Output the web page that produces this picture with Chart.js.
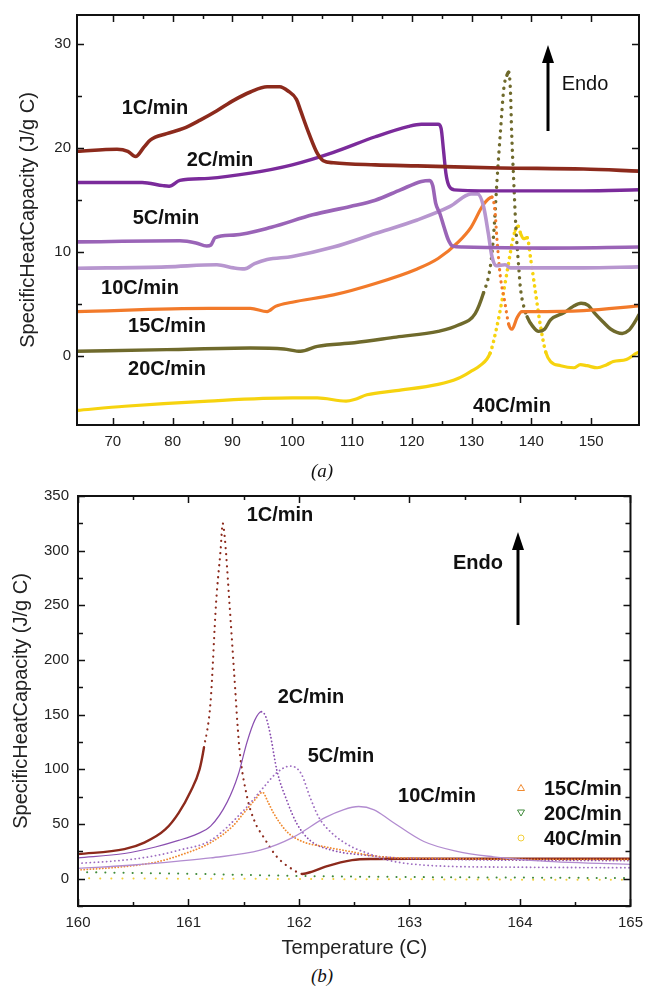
<!DOCTYPE html>
<html>
<head>
<meta charset="utf-8">
<script src="https://cdn.jsdelivr.net/npm/chart.js@4.4.1/dist/chart.umd.min.js"></script>
<style>
    html, body { margin: 0; padding: 0; background: #fff; }
    #page {
        position: relative; width: 651px; height: 986px; overflow: hidden;
        font-family: "Liberation Sans", Arial, sans-serif; color: #111;
    }
    canvas { position: absolute; left: 0; }
    #chart-a { top: 0; }
    #chart-b { top: 478px; }
    .note {
        position: absolute; transform: translate(-50%, -50%);
        font-size: 20px; font-weight: bold; white-space: nowrap; line-height: 1;
    }
    .note.plain { font-weight: normal; }
    .legend-text {
        position: absolute; transform: translateY(-50%);
        font-size: 20px; font-weight: bold; white-space: nowrap; line-height: 1;
    }
    .caption {
        position: absolute; transform: translate(-50%, -50%);
        font-family: "Liberation Serif", "DejaVu Serif", serif;
        font-style: italic; font-size: 19px; line-height: 1;
    }
    svg { position: absolute; left: 0; top: 0; overflow: visible; }
</style>
</head>
<body>
<div id="page">
    <canvas id="chart-a" width="651" height="460"></canvas>
    <canvas id="chart-b" width="651" height="484"></canvas>

    <!-- panel (a) annotations -->
    <div class="note" style="left:155px; top:107px">1C/min</div>
    <div class="note" style="left:220px; top:159px">2C/min</div>
    <div class="note" style="left:166px; top:217px">5C/min</div>
    <div class="note" style="left:140px; top:287px">10C/min</div>
    <div class="note" style="left:167px; top:325px">15C/min</div>
    <div class="note" style="left:167px; top:368px">20C/min</div>
    <div class="note" style="left:512px; top:405px">40C/min</div>
    <div class="note plain" style="left:585px; top:83px">Endo</div>
    <div class="caption" style="left:322px; top:470px">(a)</div>

    <!-- panel (b) annotations -->
    <div class="note" style="left:280px; top:514px">1C/min</div>
    <div class="note" style="left:311px; top:696px">2C/min</div>
    <div class="note" style="left:341px; top:755px">5C/min</div>
    <div class="note" style="left:437px; top:795px">10C/min</div>
    <div class="note" style="left:478px; top:562px">Endo</div>
    <div class="legend-text" style="left:544px; top:788px">15C/min</div>
    <div class="legend-text" style="left:544px; top:813px">20C/min</div>
    <div class="legend-text" style="left:544px; top:838px">40C/min</div>
    <div class="caption" style="left:322px; top:975px">(b)</div>

    <svg width="651" height="986">
        <!-- Endo arrows -->
        <line x1="548" y1="131" x2="548" y2="60" stroke="#000" stroke-width="3"/>
        <polygon points="548,45 542,63 554,63" fill="#000"/>
        <line x1="518" y1="625" x2="518" y2="547" stroke="#000" stroke-width="3"/>
        <polygon points="518,532 512,550 524,550" fill="#000"/>
        <!-- legend markers -->
        <polygon points="521,784.5 517.5,790.5 524.5,790.5" fill="none" stroke="#f08a30" stroke-width="1"/>
        <polygon points="521,816 517.5,810 524.5,810" fill="none" stroke="#3f8a3a" stroke-width="1"/>
        <circle cx="521" cy="838" r="3" fill="none" stroke="#f2cf3a" stroke-width="1"/>
    </svg>
</div>

<script>
// ---- panel (a): 64-158 C ----
const a1Temp = [64, 70.7, 72.5, 73.8, 75.2, 76.3, 79, 81.8, 84.6, 87.4, 90.2, 93, 95.8, 97.9, 99.3, 100.7, 101.4, 102.8, 104.2, 105.2, 106.9, 113.9, 120.9, 134.8, 148.7, 158];
const a1Cp = [19.7, 19.9, 19.7, 19.2, 20.1, 20.8, 21.4, 21.9, 22.7, 23.6, 24.6, 25.4, 25.9, 25.9, 25.5, 24.7, 23.6, 21.4, 19.5, 18.8, 18.6, 18.4, 18.3, 18.1, 18.0, 17.8];

const a2Temp = [64, 74.9, 78.4, 79.4, 81.2, 86, 93, 100, 106.9, 113.9, 119.5, 121.6, 124.4, 124.9, 125.3, 125.7, 126.2, 127.1, 134.8, 148.7, 158];
const a2Cp = [16.7, 16.7, 16.4, 16.35, 16.9, 17.1, 17.6, 18.4, 19.6, 21.1, 22.1, 22.3, 22.3, 21.9, 19.8, 17.6, 16.4, 16.0, 15.9, 15.9, 16.0];

const a5Temp = [64, 81.2, 83.9, 85.7, 86.4, 87.1, 90.2, 96.5, 103.4, 109.7, 113.9, 118.1, 121.6, 123, 123.5, 124, 124.7, 125.4, 126.1, 126.8, 128.5, 141.8, 158];
const a5Cp = [11.0, 11.1, 10.9, 10.6, 10.7, 11.4, 11.65, 12.4, 13.6, 14.4, 15.0, 16.0, 16.8, 16.9, 16.4, 14.7, 13.7, 12.4, 11.2, 10.6, 10.5, 10.4, 10.5];

const a10Temp = [64, 79, 87.4, 90.2, 92, 93.7, 95.8, 100, 106.9, 113.9, 120.9, 126.4, 129.9, 131, 132, 132.8, 133.4, 134.1, 135.6, 136.5, 148.7, 158];
const a10Cp = [8.46, 8.6, 8.8, 8.5, 8.4, 8.9, 9.3, 9.6, 10.5, 11.8, 13.1, 14.4, 15.6, 15.6, 14.4, 11.8, 9.6, 8.7, 8.8, 8.5, 8.5, 8.6];

const a15Temp = [64, 86, 93, 95.8, 97.2, 100, 106.9, 113.9, 120.9, 124.4, 127.8, 129.9, 132, 133.4, 133.9, 134.25, 134.8, 135.5, 136.2, 136.75, 137.6, 138.4, 140, 148.7, 158];
const a15Cp = [4.3, 4.6, 4.6, 4.3, 4.8, 5.2, 5.9, 7.0, 8.4, 9.4, 11.0, 12.4, 14.6, 15.3, 14.0, 11.2, 7.7, 5.4, 3.1, 2.6, 3.7, 4.3, 4.3, 4.4, 4.85];

const a20Temp = [64, 79, 93, 98.6, 101.4, 104.2, 110.4, 117.4, 124.4, 127.8, 130.6, 132, 133.1, 133.7, 134.25, 134.8, 135.4, 135.9, 136.2, 136.5, 136.7, 137, 137.4, 137.8, 138.2, 138.6, 139.3, 140.2, 141.2, 142.2, 143.2, 145.5, 147, 148.3, 149.5, 150.5, 152, 153.3, 155.2, 156.3, 157.2, 158];
const a20Cp = [0.48, 0.64, 0.8, 0.7, 0.48, 0.96, 1.3, 1.85, 2.4, 3.0, 4.1, 6.1, 8.5, 11.8, 16.9, 21.4, 25.8, 27.0, 27.3, 25.5, 21.5, 17.5, 12.5, 9.2, 6.4, 5.1, 3.8, 2.9, 2.4, 2.6, 3.5, 4.2, 4.8, 5.1, 4.9, 4.2, 3.3, 2.6, 2.2, 2.5, 3.2, 4.0];

const a40Temp = [64, 72, 86, 100, 104.2, 109, 110.4, 112.5, 117.4, 124.4, 127.8, 130, 131.4, 133.1, 134.25, 135.1, 135.9, 136.75, 137.3, 137.8, 138.2, 138.7, 139.3, 139.9, 140.7, 141.5, 142.4, 143.2, 144.9, 147.1, 148.2, 149.3, 151, 152.6, 153.7, 155.9, 157.6, 158];
const a40Cp = [-5.2, -4.8, -4.3, -4.0, -4.0, -4.3, -4.15, -3.7, -3.3, -2.7, -2.1, -1.4, -0.9, 0.3, 2.9, 5.4, 8.0, 10.8, 12.1, 12.5, 11.8, 11.3, 11.4, 9.3, 6.1, 3.0, 0.4, -0.5, -0.9, -1.1, -0.8, -0.9, -1.1, -0.8, -0.5, -0.3, 0.3, 0.4];

// ---- panel (b): 160-165 C ----
const b1Temp = [160, 160.42, 160.6, 160.79, 160.91, 161.02, 161.1, 161.14, 161.2, 161.25, 161.29, 161.31, 161.33, 161.37, 161.41, 161.46, 161.53, 161.6, 161.68, 161.8, 161.95, 162.03, 162.12, 162.24, 162.48, 162.69, 163, 165];
const b1Cp = [22.4, 27, 33, 45, 60, 80, 100, 120, 162, 253, 300, 325, 310, 253, 193, 120, 75, 52, 38, 20, 8, 4.3, 6.5, 11, 17, 18, 18.2, 18.2];

const b2Temp = [160, 160.42, 160.7, 160.91, 161.08, 161.2, 161.35, 161.45, 161.53, 161.6, 161.66, 161.7, 161.74, 161.8, 161.89, 161.98, 162.1, 162.3, 162.6, 163, 165];
const b2Cp = [19, 23, 29, 35, 41, 48, 70, 95, 125, 145, 152.7, 148, 132, 99, 71.5, 50.5, 35, 26, 21.5, 18.5, 16.5];

const b5Temp = [160, 160.42, 160.7, 160.91, 161.2, 161.5, 161.68, 161.8, 161.92, 162.02, 162.1, 162.18, 162.3, 162.48, 162.63, 162.8, 163.2, 164, 165];
const b5Cp = [14, 17, 21, 26, 35, 62.5, 83.6, 97, 103, 96, 74.5, 56, 41.5, 29, 23, 17, 12, 10.5, 10];

const b10Temp = [160, 160.5, 160.91, 161.2, 161.65, 161.95, 162.24, 162.4, 162.54, 162.68, 162.83, 163.13, 163.43, 163.76, 164.13, 165];
const b10Cp = [9.4, 12.5, 16, 19, 26, 38, 56, 63, 66, 63, 53, 34, 25, 20, 16.5, 13];

const b15Temp = [160, 160.42, 160.7, 160.91, 161.2, 161.4, 161.5, 161.6, 161.67, 161.72, 161.77, 161.89, 162.03, 162.24, 162.48, 162.63, 162.9, 165];
const b15Cp = [7.9, 11, 15, 21, 33, 48, 60, 72, 79, 70, 60, 43, 34, 29, 24.5, 21.5, 19, 17.5];

const b20Temp = [160, 161, 162, 163, 164, 165];
const b20Cp = [6, 4.5, 2.5, 1.5, 1, 0.5];

const b40Temp = [160, 161, 162, 163, 164, 165];
const b40Cp = [0.3, 0, -0.3, -0.6, -0.9, -1];

const FONT = '"Liberation Sans", Arial, sans-serif';
const TEXT_COLOR = '#222';

function pairs(xs, ys) {
    return xs.map((x, i) => ({ x: x, y: ys[i] }));
}

// how steep a segment is on screen
function slope(ctx) {
    const dx = Math.abs(ctx.p1.x - ctx.p0.x) || 0.01;
    return Math.abs(ctx.p1.y - ctx.p0.y) / dx;
}

// panel (a): only the steep parts come out as separate markers
const steepOnly = ctx => slope(ctx) > 3;
// panel (b): the whole falling side of the peak is sparse
const fallingOrSteep = ctx => ctx.p1.y > ctx.p0.y + 0.3 || slope(ctx) > 6;

function curve(label, xs, ys, color, width, opts) {
    opts = opts || {};
    const ds = {
        label: label,
        data: pairs(xs, ys),
        showLine: true,
        borderColor: color,
        backgroundColor: color,
        borderWidth: width,
        borderDash: opts.dash || [],
        pointRadius: 0,
        cubicInterpolationMode: 'monotone',
        borderCapStyle: 'round',
        borderJoinStyle: 'round'
    };
    if (opts.dotWhen) {
        ds.segment = {
            borderDash: ctx => opts.dotWhen(ctx) ? opts.dotDash : undefined,
            borderWidth: ctx => opts.dotWhen(ctx) && opts.dotWidth ? opts.dotWidth : undefined
        };
    }
    return ds;
}

// frame box + inward tick marks on all four sides
const framePlugin = {
    id: 'frame',
    afterDraw(chart) {
        const { ctx, chartArea: a, scales } = chart;
        ctx.save();
        ctx.strokeStyle = '#111';
        ctx.lineWidth = 1.5;
        scales.x.ticks.forEach(t => {
            const px = Math.round(scales.x.getPixelForValue(t.value)) + 0.5;
            const len = t.label !== '' ? 7 : 4;
            ctx.beginPath();
            ctx.moveTo(px, a.bottom); ctx.lineTo(px, a.bottom - len);
            ctx.moveTo(px, a.top); ctx.lineTo(px, a.top + len);
            ctx.stroke();
        });
        scales.y.ticks.forEach(t => {
            const py = Math.round(scales.y.getPixelForValue(t.value)) + 0.5;
            const len = t.label !== '' ? 7 : 5;
            ctx.beginPath();
            ctx.moveTo(a.left, py); ctx.lineTo(a.left + len, py);
            ctx.moveTo(a.right, py); ctx.lineTo(a.right - len, py);
            ctx.stroke();
        });
        ctx.lineWidth = 2;
        ctx.strokeRect(a.left, a.top, a.right - a.left, a.bottom - a.top);
        ctx.restore();
    }
};

const isMultiple = (v, step) => Math.abs(v / step - Math.round(v / step)) < 1e-6;

function axis(min, max, step, labelEvery, padding, size, extra) {
    return Object.assign({
        type: 'linear',
        min: min,
        max: max,
        grid: { display: false, drawTicks: false },
        border: { display: false },
        ticks: {
            stepSize: step,
            autoSkip: false,
            maxRotation: 0,
            padding: padding,
            color: TEXT_COLOR,
            font: { family: FONT, size: 15 },
            callback: v => isMultiple(v, labelEvery) ? v : ''
        },
        // drop the odd end values (min/max) so only the step ticks stay
        afterBuildTicks: s => {
            s.ticks = s.ticks.filter(t => isMultiple(t.value, step));
        },
        afterFit: s => {
            if (s.isHorizontal()) s.height = size; else s.width = size;
        }
    }, extra || {});
}

const yTitle = pad => ({
    display: true,
    text: 'SpecificHeatCapacity (J/g C)',
    color: TEXT_COLOR,
    font: { family: FONT, size: 20 },
    padding: { top: pad, bottom: 0 }
});

const baseOptions = {
    responsive: false,
    animation: false,
    plugins: { legend: { display: false }, tooltip: { enabled: false } }
};

// ---- panel (a) ----
new Chart(document.getElementById('chart-a'), {
    type: 'scatter',
    data: {
        datasets: [
            curve('1C/min', a1Temp, a1Cp, '#8c2a1c', 3.6),
            curve('2C/min', a2Temp, a2Cp, '#7b2b9b', 3.4),
            curve('5C/min', a5Temp, a5Cp, '#9a64b7', 3.6),
            curve('10C/min', a10Temp, a10Cp, '#b796cf', 3.6),
            curve('15C/min', a15Temp, a15Cp, '#f27a2a', 3.2, { dotWhen: steepOnly, dotDash: [0.1, 6], dotWidth: 3.2 }),
            curve('20C/min', a20Temp, a20Cp, '#6f6a2c', 3.4, { dotWhen: steepOnly, dotDash: [0.1, 7], dotWidth: 3.4 }),
            curve('40C/min', a40Temp, a40Cp, '#f6d30f', 3.2, { dotWhen: steepOnly, dotDash: [0.1, 6], dotWidth: 3.6 })
        ]
    },
    options: Object.assign({}, baseOptions, {
        layout: { padding: { left: 0, right: 12, top: 14, bottom: 0 } },
        scales: {
            x: axis(64, 158, 5, 10, 8, 35),
            y: axis(-6.6, 32.8, 5, 10, 6, 77, { title: yTitle(16) })
        }
    }),
    plugins: [framePlugin]
});

// ---- panel (b) ----
new Chart(document.getElementById('chart-b'), {
    type: 'scatter',
    data: {
        datasets: [
            curve('40C/min', b40Temp, b40Cp, '#f2cf3a', 2, { dash: [0.1, 11] }),
            curve('20C/min', b20Temp, b20Cp, '#3f8a3a', 2, { dash: [0.1, 9] }),
            curve('10C/min', b10Temp, b10Cp, '#b28cd0', 1.3),
            curve('5C/min', b5Temp, b5Cp, '#9d6cc0', 1.8, { dash: [0.1, 4] }),
            curve('15C/min', b15Temp, b15Cp, '#f08a30', 1.8, { dash: [0.1, 3] }),
            curve('2C/min', b2Temp, b2Cp, '#8a4fb0', 1.2, { dotWhen: fallingOrSteep, dotDash: [0.1, 3.5], dotWidth: 1.8 }),
            curve('1C/min', b1Temp, b1Cp, '#8c2a1c', 2.4, { dotWhen: fallingOrSteep, dotDash: [0.1, 6], dotWidth: 2.2 })
        ]
    },
    options: Object.assign({}, baseOptions, {
        layout: { padding: { left: 0, right: 11, top: 16, bottom: 0 } },
        scales: {
            x: axis(160, 165, 0.5, 1, 8, 56, {
                title: {
                    display: true,
                    text: 'Temperature (C)',
                    color: TEXT_COLOR,
                    font: { family: FONT, size: 20 },
                    padding: { top: 0, bottom: 2 }
                }
            }),
            y: axis(-25, 350, 25, 50, 9, 78, { title: yTitle(9) })
        }
    }),
    plugins: [framePlugin]
});
</script>
</body>
</html>
